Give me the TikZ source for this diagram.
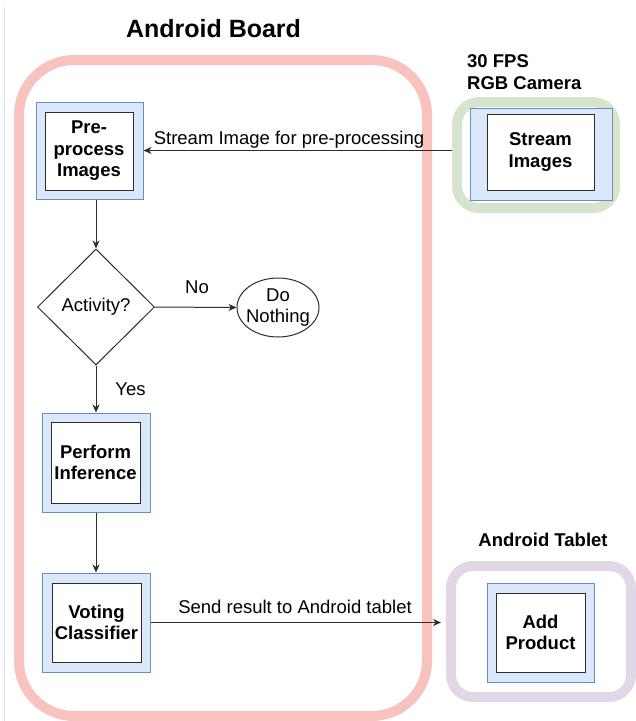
\documentclass[tikz,border=0pt]{standalone}
\usepackage{fontspec}
\setmainfont{Liberation Sans}
\usetikzlibrary{shapes.geometric,arrows.meta}
\definecolor{pinkc}{RGB}{248,194,190}
\definecolor{greenc}{RGB}{214,228,206}
\definecolor{purplec}{RGB}{225,215,231}
\definecolor{bluefill}{RGB}{218,232,252}
\definecolor{bluestroke}{RGB}{108,142,191}
\definecolor{linec}{RGB}{45,45,45}
\begin{document}
\begin{tikzpicture}[x=1pt,y=-1pt,
  txt/.style={font=\fontsize{18.5}{21.5}\selectfont, inner sep=0pt, align=center},
  btxt/.style={font=\fontsize{18.5}{21.5}\selectfont\bfseries, inner sep=0pt, align=center},
  container/.style={draw=#1, line width=10pt, rectangle, inner sep=0pt},
  outerbox/.style={draw=bluestroke, fill=bluefill, line width=1pt, rectangle, inner sep=0pt},
  innerbox/.style={draw=linec, fill=white, line width=1pt, rectangle, inner sep=0pt,
    font=\fontsize{18.5}{21.5}\selectfont\bfseries, align=center},
  arr/.style={draw=linec, line width=1pt, -{Stealth[length=8pt,width=7pt,inset=2.5pt]}}
]
\useasboundingbox (0,0) rectangle (636,721);
\draw[black!12, line width=0.8pt] (4.5,7) -- (4.5,721);

% containers
\node[container=pinkc, minimum width=408pt, minimum height=656pt, rounded corners=55pt] (board) at (223,388) {};
\node[container=greenc, minimum width=158pt, minimum height=106pt, rounded corners=22pt] (cam) at (536,155) {};
\node[container=purplec, minimum width=180pt, minimum height=131pt, rounded corners=22pt] (tab) at (541,631.5) {};

% titles
\node[font=\fontsize{25}{29}\selectfont\bfseries, inner sep=0pt, anchor=base] (boardT) at (213.5,37) {Android Board};
\node[btxt, align=left, anchor=west] (camT) at (467,72) {30 FPS\\RGB Camera};
\node[btxt, anchor=base] (tabT) at (543,546) {Android Tablet};

% boxes
\node[outerbox, minimum width=107pt, minimum height=97pt] (pre) at (89.5,150.5) {};
\node[innerbox, minimum width=88pt, minimum height=78pt] (preI) at (89,151) {Pre-\\process\\Images};

\node[outerbox, minimum width=142pt, minimum height=92pt] (str) at (541,154) {};
\node[innerbox, minimum width=107pt, minimum height=76pt] (strI) at (540.5,152) {Stream\\Images};

\node[outerbox, minimum width=108pt, minimum height=99pt] (perf) at (96,462.5) {};
\node[innerbox, minimum width=89pt, minimum height=81pt] (perfI) at (95.5,462.5) {Perform\\Inference};

\node[outerbox, minimum width=108pt, minimum height=99pt] (vote) at (96,622.5) {};
\node[innerbox, minimum width=89pt, minimum height=79pt] (voteI) at (96.5,622.5) {Voting\\Classifier};

\node[outerbox, minimum width=107pt, minimum height=99pt] (add) at (540.5,632.5) {};
\node[innerbox, minimum width=89pt, minimum height=79pt] (addI) at (540.5,632.5) {Add\\Product};

% decision and ellipse
\node[diamond, draw=linec, line width=1pt, fill=white, aspect=1, inner sep=0pt,
  minimum width=117pt, minimum height=116pt, font=\fontsize{18.5}{21.5}\selectfont] (act) at (96,307) {Activity?};
\node[ellipse, draw=linec, line width=1pt, fill=white, inner sep=0pt,
  minimum width=82pt, minimum height=59pt] (none) at (278,307.5) {};
\node[txt] (noneT) at (none.center) {Do\\Nothing};

% connectors
\draw[arr] (cam.west |- pre.east) -- (pre.east);
\draw[arr] (act.north |- pre.south) -- (act.north);
\draw[arr] (act.east) -- (none.west);
\draw[arr] (act.south) -- (perf.north);
\draw[arr] (perf.south) -- (vote.north);
\draw[arr, shorten >=5pt] (vote.east) -- (tab.west |- vote.east);

% labels
\node[txt, anchor=base] (l1) at (289,144) {Stream Image for pre-processing};
\node[txt, anchor=base] (l2) at (295,613) {Send result to Android tablet};
\node[txt, anchor=base] (l3) at (197,293) {No};
\node[txt, anchor=base] (l4) at (130.5,395) {Yes};
\end{tikzpicture}
\end{document}
